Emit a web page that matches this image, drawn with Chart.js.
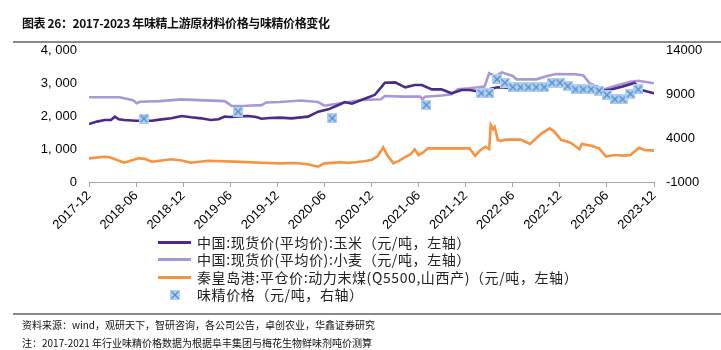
<!DOCTYPE html>
<html>
<head>
<meta charset="utf-8">
<script src="https://cdn.jsdelivr.net/npm/chart.js@4.4.1/dist/chart.umd.min.js"></script>
<style>
  html, body { margin: 0; padding: 0; background: #fff; }
  #wrap { position: relative; width: 721px; height: 350px; overflow: hidden; }
  #c { position: absolute; left: 0; top: 0; }
  .cn { font-family: "Noto Sans CJK SC", "Noto Sans", sans-serif; color: #111; position: absolute; white-space: nowrap; }
  #title { left: 22px; top: 14px; font-size: 12px; font-weight: bold; line-height: 18px; letter-spacing: -0.4px; }
  .rule { position: absolute; left: 13px; width: 708px; height: 2px; background: #8a8a8a; }
  #legend { left: 158px; top: 234px; font-size: 14px; letter-spacing: 0.6px; line-height: 17.3px; color: #222; }
  .row { display: flex; align-items: center; height: 17.3px; }
  .sw { width: 33px; height: 3px; margin-right: 6px; }
  .mk { width: 33px; margin-right: 6px; display: flex; justify-content: center; }
  .src { left: 22px; font-size: 10px; line-height: 14px; }
</style>
</head>
<body>
<div id="wrap">
  <canvas id="c" width="721" height="350"></canvas>
  <div id="title" class="cn">图表 26：2017-2023 年味精上游原材料价格与味精价格变化</div>
  <div class="rule" style="top:41px"></div>
  <div id="legend" class="cn"></div>
  <div class="rule" style="top:313px"></div>
  <div class="cn src" style="top:318px">资料来源：wind，观研天下，智研咨询，各公司公告，卓创农业，华鑫证券研究</div>
  <div class="cn src" style="top:336px">注：2017-2021 年行业味精价格数据为根据阜丰集团与梅花生物鲜味剂吨价测算</div>
</div>
<script>
// ---- data (x = months since 2017-12) ----
const tickLabels = ['2017-12','2018-06','2018-12','2019-06','2019-12','2020-06','2020-12','2021-06','2021-12','2022-06','2022-12','2023-06','2023-12'];

const seriesNames = [
  '中国:现货价(平均价):玉米（元/吨，左轴）',
  '中国:现货价(平均价):小麦（元/吨，左轴）',
  '秦皇岛港:平仓价:动力末煤(Q5500,山西产)（元/吨，左轴）',
  '味精价格（元/吨，右轴）'
];

const cornMonths = [0,1,2,2.8,3.3,3.8,4.5,6,8,9,10.5,11.8,13,14.3,15.5,16.5,17.3,18,19,20.3,21.3,22,23,24.3,25.8,27.9,29.2,30.5,31.8,32.6,33.5,34.7,36.4,37.3,37.7,39,40.3,41.5,42.4,43.7,44.9,46.2,47.5,48.5,49.8,51.5,52.1,54,56.4,59.1,61,63.4,65.7,66.5,67.9,69.5,70.4,72];
const cornValues = [1757,1830,1879,1880,1980,1900,1879,1858,1858,1889,1930,2000,1960,1929,1879,1900,1980,1970,1990,2000,1970,1919,1940,1950,1929,1980,2131,2202,2333,2424,2374,2485,2636,2889,3010,3020,2869,2939,2939,2808,2808,2687,2788,2788,2737,2838,2869,2850,2909,2889,2900,2919,2768,2800,2889,3000,2788,2687];

const wheatMonths = [0,3.9,5.6,6.1,6.5,9,11.8,14,17.3,18.2,20,22,22.6,24.3,27,29.2,30,31,32.5,34.7,37.2,37.7,40,42.2,42.5,42.8,45,46.2,47,48.5,50.4,51,51.8,52.6,54,54.5,57,58.4,59.5,62,63,63.8,65.7,67,69,70,72];
const wheatValues = [2567,2567,2480,2385,2430,2450,2505,2480,2450,2303,2310,2330,2410,2424,2470,2424,2313,2350,2400,2485,2505,2606,2586,2586,2505,2586,2620,2657,2808,2838,2889,3293,3212,3323,3212,3111,3111,3212,3273,3263,3230,2990,2808,2909,3040,3070,2990];

const coalMonths = [0,2,2.7,4.5,6.3,7.1,8,10.5,11.8,13,15.2,16.9,18.6,22,24.3,26,27,28,29.2,30,31,32,33,34,35,36,36.8,37.5,38,38.8,39.5,40,41,41.5,42,42.5,43.2,48.5,49.2,49.8,50.5,51,51.2,51.5,51.7,52.1,52.5,53,55,56.2,57.7,58.7,59.2,60.2,61,61.5,62.5,62.8,64,65,65.9,67,68,69,70.1,70.8,72];
const coalValues = [717,767,740,585,717,700,616,687,650,585,646,630,616,585,565,575,560,530,464,565,580,600,580,600,630,667,788,1050,820,565,640,717,848,990,818,880,1020,1020,788,950,1070,1000,1727,1600,1667,1273,1242,1283,1283,1152,1475,1626,1550,1273,1220,1172,990,1150,1100,1020,767,818,800,818,1040,970,950];

const msgMonths = [7,19,31,43,50,51,52,53,54,55,56,57,58,59,60,61,62,63,64,65,66,67,68,69,70];
const msgValues = [6200,7000,6250,7750,9080,9080,10670,10280,9760,9760,9760,9760,9760,10280,10280,9900,9530,9530,9530,9370,8880,8400,8400,9000,9530];

const colors = { corn: '#4a2a8a', wheat: '#a898d8', coal: '#f7923e', msgFill: '#b3cfee', msgLine: '#4f8fd6' };

function pts(ms, vs) { return ms.map((m, i) => ({ x: m, y: vs[i] })); }

// marker: light-blue square with blue X
function makeMarker(size) {
  const cv = document.createElement('canvas');
  cv.width = size; cv.height = size;
  const g = cv.getContext('2d');
  g.fillStyle = colors.msgFill;
  g.fillRect(0, 0, size, size);
  g.strokeStyle = colors.msgLine;
  g.lineWidth = 1.4;
  g.beginPath();
  g.moveTo(1.5, 1.5); g.lineTo(size - 1.5, size - 1.5);
  g.moveTo(size - 1.5, 1.5); g.lineTo(1.5, size - 1.5);
  g.stroke();
  return cv;
}
const marker = makeMarker(10);

const tickFont = { family: '"Liberation Sans", Arial, sans-serif', size: 13 };

new Chart(document.getElementById('c'), {
  type: 'line',
  data: {
    datasets: [
      { label: seriesNames[3], type: 'scatter', data: pts(msgMonths, msgValues), yAxisID: 'yR', pointStyle: marker, pointRadius: 5, showLine: false, order: 0 },
      { label: seriesNames[0], data: pts(cornMonths, cornValues), yAxisID: 'yL', borderColor: colors.corn, borderWidth: 2.6, pointRadius: 0, tension: 0, order: 1 },
      { label: seriesNames[1], data: pts(wheatMonths, wheatValues), yAxisID: 'yL', borderColor: colors.wheat, borderWidth: 2.6, pointRadius: 0, tension: 0, order: 2 },
      { label: seriesNames[2], data: pts(coalMonths, coalValues), yAxisID: 'yL', borderColor: colors.coal, borderWidth: 2.6, pointRadius: 0, tension: 0, order: 3 }
    ]
  },
  options: {
    responsive: false,
    animation: false,
    devicePixelRatio: 1,
    layout: { padding: { top: 50, left: 0, right: 0, bottom: 0 } },
    plugins: { legend: { display: false }, tooltip: { enabled: false } },
    scales: {
      x: {
        type: 'linear', min: 0, max: 72, position: 'bottom',
        afterFit: s => { s.height = 168; },
        afterBuildTicks: s => { s.ticks = tickLabels.map((_, i) => ({ value: i * 6 })); },
        ticks: { autoSkip: false, minRotation: 45, maxRotation: 45, font: tickFont, color: '#000', padding: 1,
                 callback: v => tickLabels[Math.round(v / 6)] },
        grid: { drawOnChartArea: false, drawTicks: true, tickLength: 5, color: '#a6a6a6' },
        border: { display: true, color: '#a6a6a6', width: 1 }
      },
      yL: {
        position: 'left', min: 0, max: 4000,
        afterFit: s => { s.width = 89; },
        ticks: { stepSize: 1000, font: tickFont, color: '#000', padding: 12,
                 callback: v => v >= 1000 ? Math.floor(v / 1000) + ', ' + String(v % 1000).padStart(3, '0') : String(v) },
        grid: { display: false, drawTicks: false },
        border: { display: false }
      },
      yR: {
        position: 'right', min: -1000, max: 14000,
        afterFit: s => { s.width = 67; },
        afterBuildTicks: s => { s.ticks = [-1000, 4000, 9000, 14000].map(v => ({ value: v })); },
        ticks: { font: tickFont, color: '#000', padding: 12, callback: v => String(v) },
        grid: { display: false, drawTicks: false },
        border: { display: false }
      }
    }
  }
});

// HTML legend built from series names
const lg = document.getElementById('legend');
const lineColors = [colors.corn, colors.wheat, colors.coal];
[0, 1, 2].forEach(i => {
  const r = document.createElement('div'); r.className = 'row';
  r.innerHTML = '<div class="sw" style="background:' + lineColors[i] + '"></div><span>' + seriesNames[i] + '</span>';
  lg.appendChild(r);
});
{
  const r = document.createElement('div'); r.className = 'row';
  const mk = document.createElement('div'); mk.className = 'mk';
  const m2 = makeMarker(10); mk.appendChild(m2);
  r.appendChild(mk);
  const sp = document.createElement('span'); sp.textContent = seriesNames[3]; r.appendChild(sp);
  lg.appendChild(r);
}
</script>
</body>
</html>
